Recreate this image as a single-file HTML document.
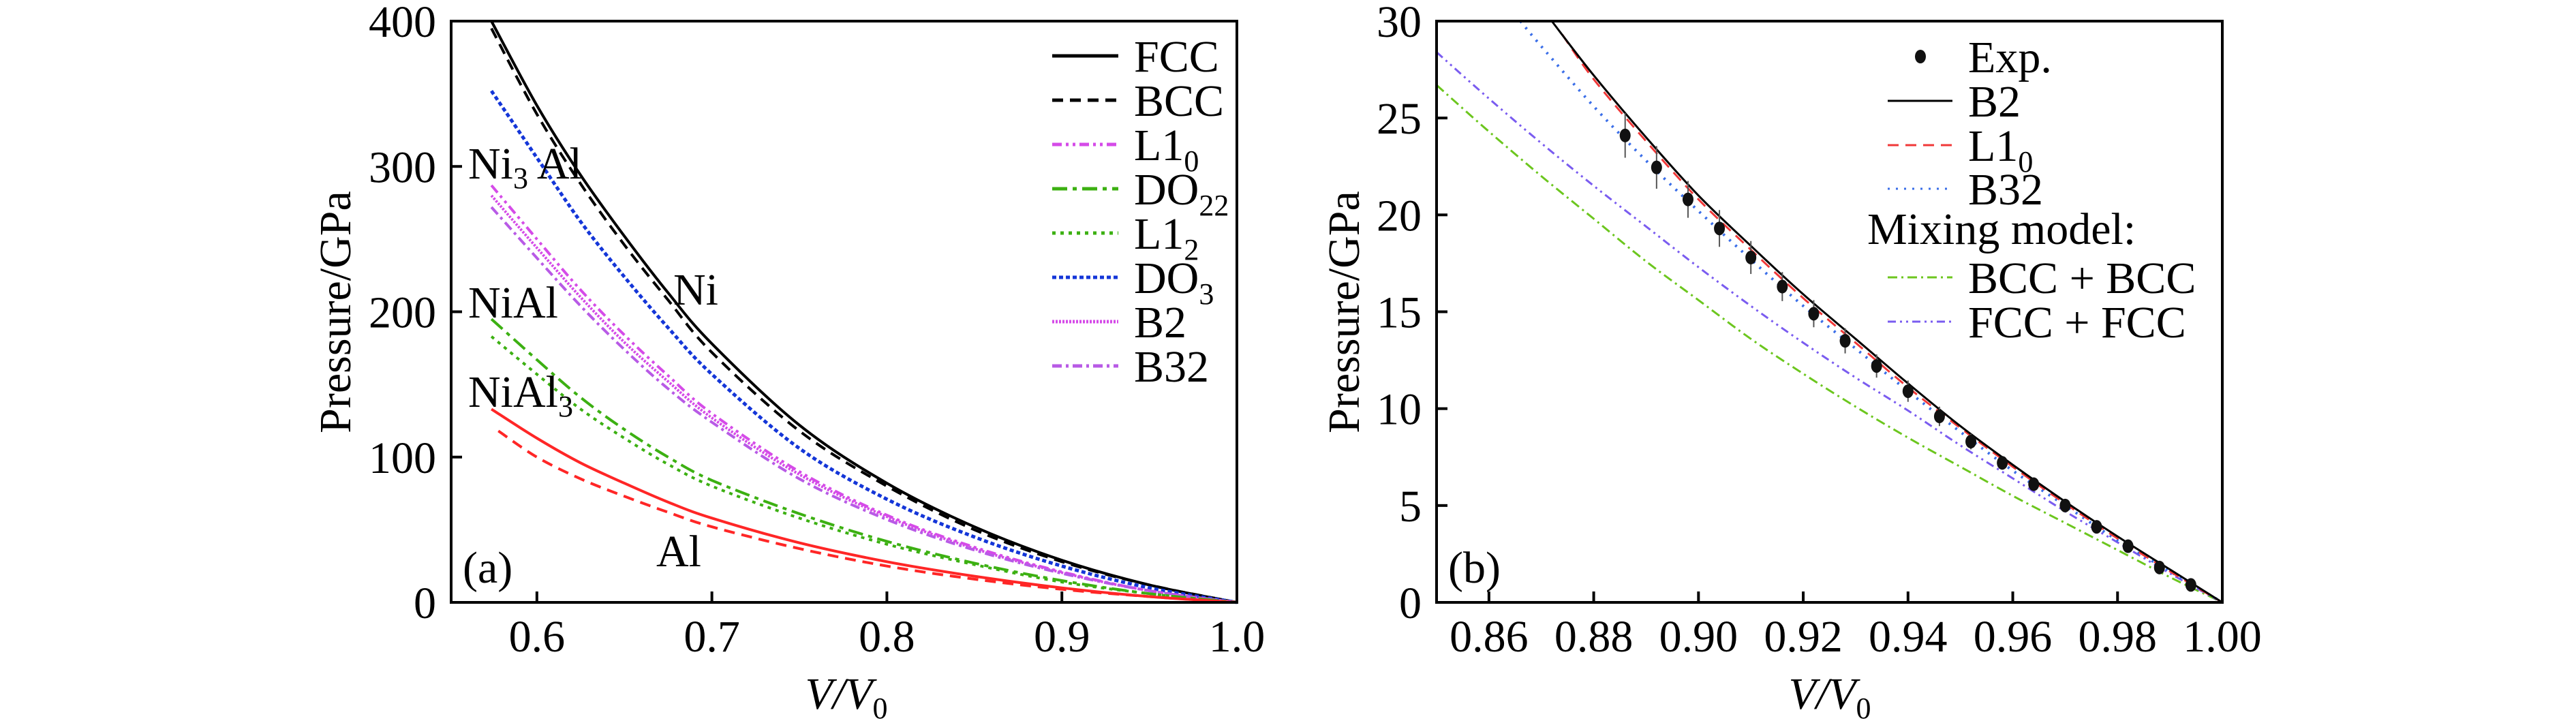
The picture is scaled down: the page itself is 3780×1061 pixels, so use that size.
<!DOCTYPE html>
<html><head><meta charset="utf-8"><style>
html,body{margin:0;padding:0;background:#fff;font-family:"Liberation Serif","Times New Roman",Times,"DejaVu Serif",serif;}
svg{display:block;}
svg text, svg tspan{font-family:"Liberation Serif","Times New Roman",Times,"DejaVu Serif",serif !important;}
</style></head><body>
<svg id="chart" width="3780" height="1061" viewBox="0 0 3780 1061" xmlns="http://www.w3.org/2000/svg"></svg>
<script>
// ---------- Panel (a) data ----------
const aVol = [0.574,0.6,0.625,0.65,0.675,0.7,0.75,0.8,0.85,0.9,0.95,1.0];
const aFCC = [400,342,294,252,213,178,122,82,52,29,12,0];
const aBCC = [395,336,288,246,208,172,118,80,50,28,12,0];
const aDO3 = [352,306,262,224,189,157,106,71,45,25,10,0];
const aL10 = [287,250,215,184,156,130,90,60,38,21,8,0];
const aB2 = [280,244,210,179,152,127,88,59,37,20.5,8,0];
const aB32 = [272,237,204,174,147,124,85,57,36,20,8,0];
const aDO22 = [195,167,141,119,100,84,61,42,27,15,6,0];
const aL12 = [183,157,133,113,95,80,58,40,26,14,6,0];
const aAlFCC = [133,113,96,82,69,58,41,28,18,10,4,0];
const aAlBCC = [118,100,85,73,62,52,37,25,16,9,4,0];
const aXTicks = [0.6,0.7,0.8,0.9,1.0];
const aXTickLabels = ["0.6","0.7","0.8","0.9","1.0"];
const aYTicks = [0,100,200,300,400];
const aYTickLabels = ["0","100","200","300","400"];

// ---------- Panel (b) data ----------
const expV = [0.886,0.892,0.898,0.904,0.910,0.916,0.922,0.928,0.934,0.940,0.946,0.952,0.958,0.964,0.970,0.976,0.982,0.988,0.994];
const expP = [24.1,22.45,20.8,19.3,17.8,16.3,14.9,13.5,12.2,10.9,9.6,8.3,7.2,6.1,5.0,3.9,2.9,1.8,0.9];
const expErr = [1.15,1.1,0.95,0.95,0.85,0.75,0.7,0.65,0.6,0.55,0.5,0.4,0.35,0.3,0.3,0.25,0.25,0.2,0.2];
const bB2V = [0.872,0.88,0.89,0.90,0.91,0.92,0.93,0.94,0.95,0.96,0.97,0.98,0.99,1.0];
const bB2P = [30,27.2,24.0,21.0,18.4,15.9,13.6,11.3,9.1,7.1,5.2,3.4,1.7,0];
const bL10V = [0.874,0.88,0.89,0.90,0.91,0.92,0.93,0.94,0.95,0.96,0.97,0.98,0.99,1.0];
const bL10P = [29.3,27.0,23.8,20.8,18.2,15.7,13.4,11.1,9.0,7.0,5.1,3.3,1.6,0];
const bB32V = [0.866,0.87,0.88,0.89,0.90,0.91,0.92,0.93,0.94,0.95,0.96,0.97,0.98,0.99,1.0];
const bB32P = [30,28.7,25.6,22.8,20.2,17.7,15.3,13.1,10.9,8.8,6.8,5.0,3.2,1.6,0];
const bMixV = [0.85,0.86,0.87,0.88,0.89,0.90,0.91,0.92,0.93,0.94,0.95,0.96,0.97,0.98,0.99,1.0];
const bBCCmix = [26.7,24.3,22.0,19.8,17.6,15.6,13.6,11.8,10.1,8.5,7.0,5.5,4.1,2.7,1.3,0];
const bFCCmix = [28.4,26.0,23.7,21.5,19.4,17.3,15.3,13.4,11.6,9.9,8.1,6.4,4.7,3.1,1.5,0];
const bXTicks = [0.86,0.88,0.90,0.92,0.94,0.96,0.98,1.00];
const bXTickLabels = ["0.86","0.88","0.90","0.92","0.94","0.96","0.98","1.00"];
const bYTicks = [0,5,10,15,20,25,30];
const bYTickLabels = ["0","5","10","15","20","25","30"];

const NS = "http://www.w3.org/2000/svg";
const FF = "'Liberation Serif','Times New Roman',Times,'DejaVu Serif',serif";
const FS = 66;
const svg = document.getElementById('chart');
function mk(tag, attrs, parent){
  const e = document.createElementNS(NS, tag);
  for (const k in attrs) e.setAttribute(k, attrs[k]);
  (parent||svg).appendChild(e);
  return e;
}
function txt(s, x, y, size, anchor, parent, extra){
  const t = mk('text', Object.assign({x:x, y:y, 'font-size':size, 'text-anchor':anchor||'start', fill:'#000', 'font-family':FF}, extra||{}), parent);
  t.textContent = s;
  return t;
}
function axes(L, R, T, B, x0, x1, y0, y1){
  return {
    x: v => L + (v - x0) / (x1 - x0) * (R - L),
    y: v => B - (v - y0) / (y1 - y0) * (B - T),
    L, R, T, B
  };
}
function line(ax, xs, ys, color, dash, w, g, name){
  const P = xs.map((v,i)=>[ax.x(v), ax.y(ys[i])]);
  let d = 'M' + P[0][0].toFixed(1) + ' ' + P[0][1].toFixed(1);
  for (let i=0;i<P.length-1;i++){
    const p0 = P[Math.max(i-1,0)], p1 = P[i], p2 = P[i+1], p3 = P[Math.min(i+2,P.length-1)];
    const c1 = [p1[0]+(p2[0]-p0[0])/6, p1[1]+(p2[1]-p0[1])/6];
    const c2 = [p2[0]-(p3[0]-p1[0])/6, p2[1]-(p3[1]-p1[1])/6];
    d += 'C'+c1[0].toFixed(1)+' '+c1[1].toFixed(1)+' '+c2[0].toFixed(1)+' '+c2[1].toFixed(1)+' '+p2[0].toFixed(1)+' '+p2[1].toFixed(1);
  }
  const p = mk('path', {d:d, fill:'none', stroke:color, 'stroke-width':w||4, 'stroke-dasharray':dash||'none'}, g);
  
  
  return p;
}
function frame(ax, g, xt, xl, yt, yl){
  const r = mk('rect', {x:ax.L, y:ax.T, width:ax.R-ax.L, height:ax.B-ax.T, fill:'none', stroke:'#000', 'stroke-width':4}, g);
  
  
  xt.forEach((v,i)=>{
    const x = ax.x(v);
    if (x > ax.L+2 && x < ax.R-2) mk('line', {x1:x, x2:x, y1:ax.B, y2:ax.B-16, stroke:'#000', 'stroke-width':4}, g);
    const t = txt(xl[i], x, ax.B+72, FS, 'middle', g);
    
    
  });
  yt.forEach((v,i)=>{
    const y = ax.y(v);
    if (y > ax.T+2 && y < ax.B-2) mk('line', {x1:ax.L, x2:ax.L+16, y1:y, y2:y, stroke:'#000', 'stroke-width':4}, g);
    const t = txt(yl[i], ax.L-22, y+23, FS, 'end', g);
    
    
  });
}
function xTitle(cx, g){
  const t = mk('text', {x:cx, y:1040, 'font-size':FS, 'text-anchor':'middle', 'font-style':'italic', 'font-family':FF}, g);
  t.innerHTML = 'V/V<tspan font-size="44" dy="14" font-style="normal">0</tspan>';
  
  
}
function yTitle(x, g){
  const t = txt('Pressure/GPa', 0, 0, FS, 'middle', g, {transform:'translate('+x+',458) rotate(-90)'});
  
  
}

// ================= Panel (a) =================
const ga = mk('g', {});


const axA = axes(662, 1815, 31, 884, 0.551, 1.0, 0, 400);
const cBlack='#000', cBlue='#1436d8', cMag='#d54be8', cPur='#b85ae6', cGreen='#3cb012', cRed='#ff2626';
const styles = {
  FCC:[cBlack,'none'], BCC:[cBlack,'16 10'], L10:[cMag,'14 6 4 6 4 6'], DO22:[cGreen,'22 8 6 8'],
  L12:[cGreen,'5 7'], DO3:[cBlue,'6 4'], B2:[cMag,'3 2'], B32:[cPur,'14 6 4 6']
};
line(axA, aVol, aFCC, cBlack, 'none', 4, ga, 'ni-fcc-line');
line(axA, aVol, aBCC, cBlack, '16 10', 4, ga, 'ni-bcc-line');
line(axA, aVol, aDO3, cBlue, '6 4', 5, ga, 'ni3al-do3-line');
line(axA, aVol, aL10, cMag, '14 6 4 6 4 6', 4, ga, 'l10-line');
line(axA, aVol, aB2, cMag, '3 2', 4, ga, 'nial-b2-line');
line(axA, aVol, aB32, cPur, '14 6 4 6', 4, ga, 'b32-line');
line(axA, aVol, aDO22, cGreen, '22 8 6 8', 4, ga, 'do22-line');
line(axA, aVol, aL12, cGreen, '5 7', 4, ga, 'nial3-l12-line');
line(axA, aVol, aAlFCC, cRed, 'none', 4, ga, 'al-fcc-line');
line(axA, aVol.map((v,i)=> i===0 ? 0.578 : v), aAlBCC, cRed, '16 10', 4, ga, 'al-bcc-line');
frame(axA, ga, aXTicks, aXTickLabels, aYTicks, aYTickLabels);
xTitle(1242, ga);
yTitle(514, ga);
[['Ni', '3', ' Al', 687, 262, 'ni3al-label'], ['NiAl', '', '', 687, 466, 'nial-label'], ['NiAl', '3', '', 687, 597, 'nial3-label'],
 ['Ni', '', '', 988, 447, 'ni-label'], ['Al', '', '', 963, 831, 'al-label'], ['(a)', '', '', 679, 855, 'panel-a-tag']].forEach(a=>{
  const t = mk('text', {x:a[3], y:a[4], 'font-size':FS, 'font-family':FF}, ga);
  t.innerHTML = a[0] + (a[1] ? '<tspan font-size="44" dy="14">'+a[1]+'</tspan>' : '') + (a[2] ? '<tspan dy="-14">'+a[2]+'</tspan>' : '');
  
  
});
const legA = [['FCC','',styles.FCC],['BCC','',styles.BCC],['L1','0',styles.L10],['DO','22',styles.DO22],['L1','2',styles.L12],['DO','3',styles.DO3],['B2','',styles.B2],['B32','',styles.B32]];
const gla = mk('g', {}, ga);


legA.forEach((e,i)=>{
  const y = 82 + i*65;
  const ge = mk('g', {}, gla);
  
  
  mk('line', {x1:1544, x2:1641, y1:y, y2:y, stroke:e[2][0], 'stroke-width':5, 'stroke-dasharray':e[2][1]}, ge);
  const t = mk('text', {x:1664, y:y+23, 'font-size':FS, 'font-family':FF}, ge);
  t.innerHTML = e[0] + (e[1] ? '<tspan font-size="44" dy="16">'+e[1]+'</tspan>' : '');
});

// ================= Panel (b) =================
const gb = mk('g', {});


const axB = axes(2108, 3261, 31, 884, 0.85, 1.0, 0, 30);
const cLG='#6cc61e', cLP='#7a5cf0', cDB='#3a6ee8', cLR='#f03838';
line(axB, bMixV, bBCCmix, cLG, '14 6 3 6', 3, gb, 'bcc-bcc-mix-line');
line(axB, bMixV, bFCCmix, cLP, '12 6 3 6 3 6', 3, gb, 'fcc-fcc-mix-line');
line(axB, bB32V, bB32P, cDB, '3 9', 4, gb, 'b32-line');
line(axB, bL10V, bL10P, cLR, '16 10', 3, gb, 'l10-line');
line(axB, bB2V, bB2P, '#000', 'none', 3, gb, 'b2-line');
const gexp = mk('g', {}, gb);


expV.forEach((v,i)=>{
  const x = axB.x(v), y = axB.y(expP[i]);
  const e1 = mk('line', {x1:x, x2:x, y1:axB.y(expP[i]+expErr[i]), y2:axB.y(expP[i]-expErr[i]), stroke:'#555', 'stroke-width':2}, gexp);
  
  
  const c = mk('ellipse', {cx:x, cy:y, rx:8, ry:10, fill:'#111'}, gexp);
  
  
});
frame(axB, gb, bXTicks, bXTickLabels, bYTicks, bYTickLabels);
xTitle(2685, gb);
yTitle(1994, gb);
const tb = txt('(b)', 2125, 855, FS, 'start', gb);


const glb = mk('g', {}, gb);


const le0 = mk('ellipse', {cx:2818, cy:83, rx:8, ry:10, fill:'#111'}, glb);


txt('Exp.', 2888, 106, FS, 'start', glb);
const legB = [['B2','',148,'#000','none'],['L1','0',213,cLR,'16 10'],['B32','',277,cDB,'3 9'],['BCC + BCC','',407,cLG,'14 6 3 6'],['FCC + FCC','',472,cLP,'12 6 3 6 3 6']];
legB.forEach(e=>{
  const ge = mk('g', {}, glb);
  
  
  mk('line', {x1:2770, x2:2865, y1:e[2], y2:e[2], stroke:e[3], 'stroke-width':3, 'stroke-dasharray':e[4]}, ge);
  const t = mk('text', {x:2888, y:e[2]+23, 'font-size':FS, 'font-family':FF}, ge);
  t.innerHTML = e[0] + (e[1] ? '<tspan font-size="44" dy="16">'+e[1]+'</tspan>' : '');
});
const mm = txt('Mixing model:', 2740, 358, FS, 'start', glb);


</script>
</body></html>
